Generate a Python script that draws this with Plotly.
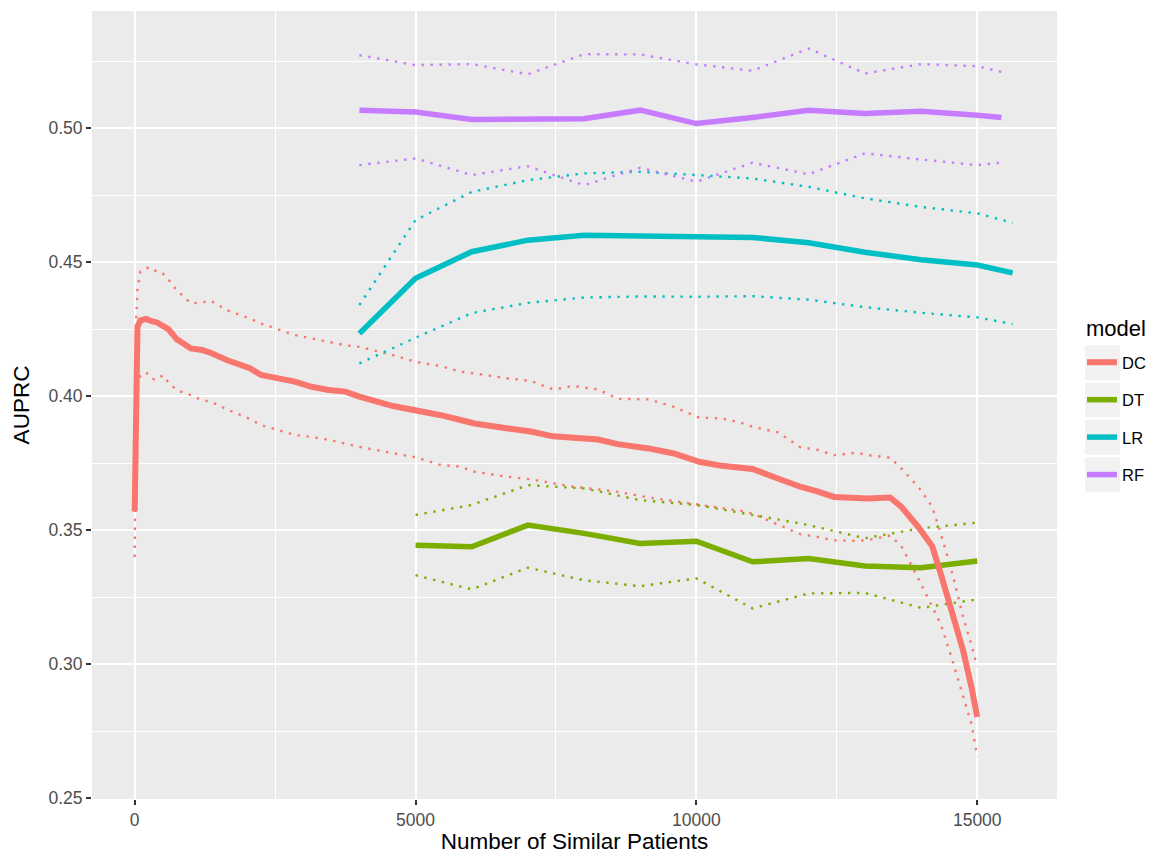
import plotly.graph_objects as go

# ---------------- data ----------------
models = ["DC", "DT", "LR", "RF"]
colors = {"DC": "#F8766D", "DT": "#7CAE00", "LR": "#00BFC4", "RF": "#C77CFF"}

dc_x = [0, 10, 25, 50, 100, 200, 300, 400, 500, 600, 750, 1000, 1200, 1350, 1650,
        2050, 2250, 2850, 3150, 3450, 3750, 4000, 4600, 5000, 5450, 5800, 6050, 6650,
        7050, 7450, 7800, 8250, 8600, 9150, 9600, 10050, 10450, 10800, 11000, 11450,
        11850, 12150, 12450, 12850, 13050, 13450, 13650, 13950, 14200, 14350, 14550,
        14750, 14900, 15000]
dc_mean = [0.357, 0.385, 0.412, 0.426, 0.4282, 0.4288, 0.4280, 0.4275, 0.4262, 0.4250,
           0.4212, 0.4178, 0.4172, 0.4162, 0.4134, 0.4104, 0.4079, 0.4054, 0.4035, 0.4023,
           0.4017, 0.3998, 0.3963, 0.3948, 0.3929, 0.3911, 0.3898, 0.3879, 0.3868, 0.3850,
           0.3845, 0.3838, 0.3821, 0.3805, 0.3786, 0.3755, 0.3740, 0.3730, 0.3728, 0.3693,
           0.3662, 0.3645, 0.3624, 0.3620, 0.3618, 0.3622, 0.3587, 0.3512, 0.3440, 0.3338,
           0.3185, 0.3050, 0.2912, 0.2803]
dc_upper = [0.372, 0.400, 0.428, 0.440, 0.4465, 0.4478, 0.4480, 0.4462, 0.4458, 0.4435,
            0.4395, 0.4346, 0.4350, 0.4356, 0.4320, 0.4290, 0.4271, 0.4228, 0.4215, 0.4203,
            0.4190, 0.4184, 0.4153, 0.4128, 0.4112, 0.4091, 0.4085, 0.4066, 0.4057, 0.4025,
            0.4038, 0.4025, 0.3990, 0.3988, 0.3960, 0.3920, 0.3917, 0.3900, 0.3886, 0.3865,
            0.3810, 0.3800, 0.3780, 0.3789, 0.3780, 0.3771, 0.3730, 0.3662, 0.3587, 0.3488,
            0.3345, 0.3175, 0.3070, 0.2990]
dc_lower = [0.340, 0.372, 0.395, 0.405, 0.4075, 0.4090, 0.4065, 0.4062, 0.4078, 0.4052,
            0.4022, 0.4004, 0.3985, 0.3980, 0.3950, 0.3915, 0.3892, 0.3855, 0.3848, 0.3837,
            0.3822, 0.3811, 0.3787, 0.3772, 0.3743, 0.3737, 0.3718, 0.3699, 0.3690, 0.3674,
            0.3662, 0.3652, 0.3643, 0.3622, 0.3608, 0.3593, 0.3582, 0.3572, 0.3562, 0.3520,
            0.3485, 0.3475, 0.3462, 0.3460, 0.3463, 0.3480, 0.3440, 0.3320, 0.3210, 0.3150,
            0.3020, 0.2880, 0.2775, 0.2654]

dt_x = [5000, 6000, 7000, 8000, 9000, 10000, 11000, 12000, 13000, 14000, 15000]
dt_mean = [0.3444, 0.3438, 0.3519, 0.3488, 0.3450, 0.3459, 0.3382, 0.3394, 0.3366, 0.3360, 0.3385]
dt_upper = [0.3557, 0.3594, 0.3668, 0.3656, 0.3612, 0.3594, 0.3557, 0.3519, 0.3470, 0.3507, 0.3528]
dt_lower = [0.3332, 0.3279, 0.3360, 0.3313, 0.3291, 0.3320, 0.3208, 0.3264, 0.3266, 0.3210, 0.3242]

lr_x = [4000, 5000, 6000, 7000, 8000, 9000, 10000, 11000, 12000, 13000, 14000, 15000, 15630]
lr_mean = [0.4234, 0.4440, 0.4539, 0.4582, 0.4600, 0.4600, 0.4595, 0.4592, 0.4572, 0.4537, 0.4509, 0.4489, 0.4460]
lr_upper = [0.4340, 0.4657, 0.4762, 0.4806, 0.4831, 0.4837, 0.4825, 0.4812, 0.4781, 0.4738, 0.4706, 0.4682, 0.4647]
lr_lower = [0.4122, 0.4218, 0.4310, 0.4348, 0.4368, 0.4372, 0.4371, 0.4373, 0.4360, 0.4332, 0.4311, 0.4294, 0.4269]

rf_x = [4000, 5000, 6000, 7000, 8000, 9000, 10000, 11000, 12000, 13000, 14000, 15000, 15430]
rf_mean = [0.5067, 0.5060, 0.5032, 0.5032, 0.5035, 0.5067, 0.5017, 0.5040, 0.5067, 0.5055, 0.5063, 0.5048, 0.5040]
rf_upper = [0.5272, 0.5235, 0.5239, 0.5201, 0.5276, 0.5275, 0.5238, 0.5214, 0.5297, 0.5204, 0.5239, 0.5231, 0.5210]
rf_lower = [0.4862, 0.4887, 0.4825, 0.4858, 0.4787, 0.4852, 0.4800, 0.4871, 0.4828, 0.4906, 0.4883, 0.4862, 0.4872]

x_ticks = [0, 5000, 10000, 15000]
y_ticks = [0.25, 0.30, 0.35, 0.40, 0.45, 0.50]

series = {
    "DC": (dc_x, dc_mean, dc_upper, dc_lower),
    "DT": (dt_x, dt_mean, dt_upper, dt_lower),
    "LR": (lr_x, lr_mean, lr_upper, lr_lower),
    "RF": (rf_x, rf_mean, rf_upper, rf_lower),
}

# ---------------- figure ----------------
# the page body adds an 8px offset, so the figure is drawn 8px smaller
OFF = 8
W, H = 1157 - OFF, 854 - OFF
ML, MR, MT, MB = 92 - OFF, 100, 11 - OFF, 55
FONT = "Liberation Sans, Arial, sans-serif"

fig = go.Figure()

# dotted bounds
for m in models:
    x, mean, up, lo = series[m]
    for bound in (up, lo):
        fig.add_trace(go.Scatter(
            x=x, y=bound, mode="lines", showlegend=False, hoverinfo="skip",
            legendgroup=m,
            line=dict(color=colors[m], width=2.4, dash="2.4px,6.6px"),
        ))

# solid lines
for m in ["DT", "LR", "RF", "DC"]:
    x, mean, up, lo = series[m]
    fig.add_trace(go.Scatter(
        x=x, y=mean, mode="lines", name=m, legendgroup=m,
        legendrank={"DC": 1, "DT": 2, "LR": 3, "RF": 4}[m],
        line=dict(color=colors[m], width=6 if m == "DC" else 5.5),
    ))

pw = W - ML - MR
ph = H - MT - MB


# helpers converting page pixels (reference picture) to paper coordinates
def px2paper_x(px):
    return (px - OFF - ML) / pw


def px2paper_y(py):
    return 1 - (py - OFF - MT) / ph


# legend key backgrounds (grey95 squares, as in ggplot)
shapes = []
for cy in [362.7, 400.0, 437.3, 474.7]:
    shapes.append(dict(
        type="rect", xref="paper", yref="paper", layer="below",
        x0=px2paper_x(1085), x1=px2paper_x(1120),
        y0=px2paper_y(cy + 17.5), y1=px2paper_y(cy - 17.5),
        fillcolor="#F2F2F2", line=dict(width=0),
    ))

annotations = [dict(
    text="model", xref="paper", yref="paper", showarrow=False,
    x=px2paper_x(1084), xanchor="left", y=px2paper_y(328), yanchor="middle",
    font=dict(size=22, color="#000000", family=FONT),
)]

fig.update_layout(
    width=W, height=H,
    margin=dict(l=ML, r=MR, t=MT, b=MB, autoexpand=False),
    paper_bgcolor="white",
    plot_bgcolor="#EBEBEB",
    font=dict(family=FONT, color="#000000"),
    showlegend=True,
    shapes=shapes,
    annotations=annotations,
    legend=dict(
        font=dict(size=16.5, color="#000000", family=FONT),
        x=px2paper_x(1082), xanchor="left",
        y=px2paper_y(345), yanchor="top",
        bgcolor="rgba(0,0,0,0)",
        tracegroupgap=13,
        itemwidth=30,
    ),
    xaxis=dict(
        range=[-760, 16420],
        tickvals=x_ticks, ticktext=[str(v) for v in x_ticks],
        ticks="outside", ticklen=5, tickwidth=1.5, tickcolor="#333333",
        tickfont=dict(size=17.5, color="#4D4D4D", family=FONT),
        showgrid=True, gridcolor="white", gridwidth=2,
        minor=dict(tickvals=[2500, 7500, 12500], showgrid=True, gridcolor="white",
                   gridwidth=1, ticks=""),
        zeroline=False, showline=False,
        title=dict(text="Number of Similar Patients",
                   font=dict(size=22.5, color="#000000", family=FONT), standoff=3),
    ),
    yaxis=dict(
        range=[0.2497, 0.5437],
        tickvals=y_ticks, ticktext=["%.2f" % v for v in y_ticks],
        ticks="outside", ticklen=5, tickwidth=1.5, tickcolor="#333333",
        tickfont=dict(size=17.5, color="#4D4D4D", family=FONT),
        showgrid=True, gridcolor="white", gridwidth=2,
        minor=dict(tickvals=[0.275, 0.325, 0.375, 0.425, 0.475, 0.525], showgrid=True,
                   gridcolor="white", gridwidth=1, ticks=""),
        zeroline=False, showline=False,
        title=dict(text="AUPRC", font=dict(size=22.5, color="#000000", family=FONT), standoff=12),
    ),
)

fig.write_html("out.html")
